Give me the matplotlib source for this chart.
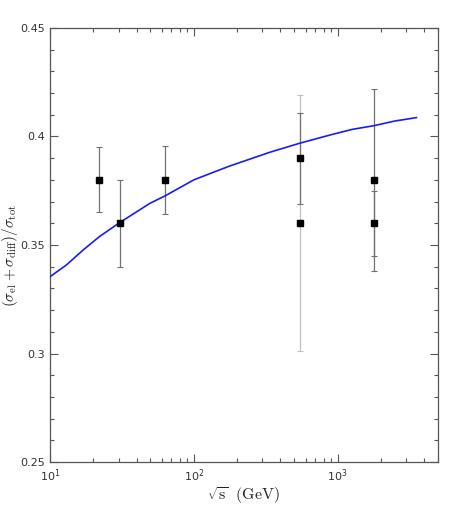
import numpy as np
import matplotlib
matplotlib.use("Agg")
import matplotlib.pyplot as plt
from matplotlib.ticker import MultipleLocator, FuncFormatter, LogLocator

plt.rcParams['mathtext.fontset'] = 'cm'

# model curve
curve_s = [10, 13, 17, 22, 30, 49.5, 63, 100, 143, 178, 337, 546, 900, 1270, 1800, 2490, 3540]
curve_r = [0.3354, 0.3408, 0.3477, 0.3538, 0.3600, 0.3692, 0.3726, 0.3800, 0.3840, 0.3864, 0.3927, 0.3969, 0.4008, 0.4033, 0.4050, 0.4071, 0.4087]

# data points (dark error bars)
data_s = [22, 30.6, 62.7, 546, 1800, 1800]
data_r = [0.380, 0.360, 0.380, 0.390, 0.380, 0.360]
data_err = [0.015, 0.020, 0.0155, 0.021, 0.042, 0.015]

# data point with light error bar
light_s = [546]
light_r = [0.360]
light_err = [0.059]

fig = plt.figure(figsize=(4.63, 5.18), dpi=100)
ax = fig.add_axes([0.108, 0.108, 0.838, 0.838])

ax.errorbar(light_s, light_r, yerr=light_err, fmt='none', ecolor='#c0c0c0',
            elinewidth=0.9, capsize=2, capthick=0.8, zorder=2)
ax.errorbar(data_s, data_r, yerr=data_err, fmt='none', ecolor='#707070',
            elinewidth=0.9, capsize=2, capthick=0.8, zorder=3)
ax.plot(data_s + light_s, data_r + light_r, 's', color='black', markersize=3.8, zorder=5)
ax.plot(curve_s, curve_r, color='#1a1aff', lw=1.2, zorder=4)

ax.set_xscale('log')
ax.set_xlim(10, 5000)
ax.set_ylim(0.25, 0.45)
ax.yaxis.set_major_locator(MultipleLocator(0.05))
ax.yaxis.set_minor_locator(MultipleLocator(0.01))
ax.yaxis.set_major_formatter(FuncFormatter(lambda v, p: '%g' % round(v, 3)))
ax.xaxis.set_minor_locator(LogLocator(base=10, subs=np.arange(2, 10), numticks=20))

for s in ax.spines.values():
    s.set_color('#555555')
    s.set_linewidth(0.9)
ax.tick_params(which='both', direction='in', top=True, right=True, colors='#555555',
               labelcolor='#333333', labelsize=8, width=0.8)
ax.tick_params(which='major', length=6)
ax.tick_params(which='minor', length=3)

ax.set_xlabel(r'$\sqrt{\rm s}\ \ {\rm (GeV)}$', fontsize=11.5, color='#222222')
ax.set_ylabel(r'$(\sigma_{\rm el}+\sigma_{\rm diff})/\sigma_{\rm tot}$', fontsize=11, color='#222222')
ax.yaxis.label.set_va('center')
ax.xaxis.label.set_va('center')
ax.xaxis.set_label_coords(0.5, -0.076)
ax.yaxis.set_label_coords(-0.104, 0.475)

fig.savefig('out.png', dpi=100)
